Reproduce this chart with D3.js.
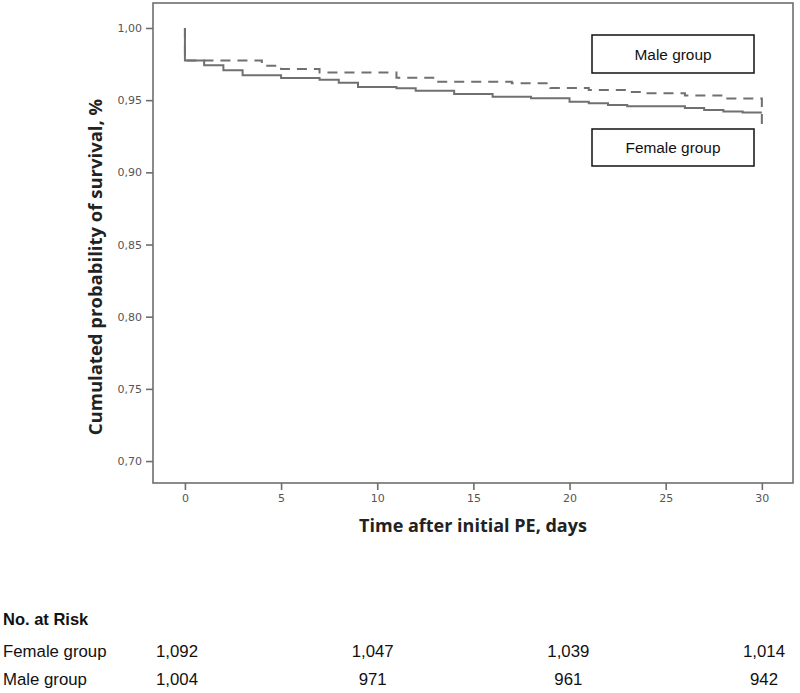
<!DOCTYPE html>
<html>
<head>
<meta charset="utf-8">
<script src="https://cdn.jsdelivr.net/npm/d3@7"></script>
<style>
  html, body { margin: 0; padding: 0; background: #fff; }
  svg { display: block; }
</style>
</head>
<body>
<svg id="chart" width="800" height="693"></svg>
<script>
// ---- data ----
const femaleT = [0, 0, 1, 2, 3, 5, 7, 8, 9, 11, 12, 14, 16, 18, 20, 21, 22, 23, 26, 27, 28, 29, 30];
const femaleS = [1.000, 0.9775, 0.9742, 0.9707, 0.9672, 0.9653, 0.9642, 0.9621, 0.9591, 0.9582, 0.9565, 0.9543, 0.9524, 0.9513, 0.9489, 0.9478, 0.9466, 0.9457, 0.9445, 0.9432, 0.9421, 0.9414, 0.9414];
const maleT = [0, 0, 4, 5, 7, 11, 13, 17, 19, 21, 23, 24, 26, 28, 30, 30];
const maleS = [1.000, 0.9775, 0.9739, 0.9716, 0.9692, 0.9656, 0.9628, 0.9617, 0.9584, 0.9570, 0.9556, 0.9547, 0.9532, 0.9511, 0.9511, 0.9314];
const yTicks = [0.70, 0.75, 0.80, 0.85, 0.90, 0.95, 1.00];
const xTicks = [0, 5, 10, 15, 20, 25, 30];
const riskTimes = [0, 10, 20, 30];
const riskGroups = ["Female group", "Male group"];
const riskFemale = ["1,092", "1,047", "1,039", "1,014"];
const riskMale = ["1,004", "971", "961", "942"];

const svg = d3.select("#chart");
const x = d3.scaleLinear().domain([-1.66, 31.62]).range([153, 793]);
const y = d3.scaleLinear().domain([0.6848, 1.0173]).range([483, 3]);

// frame
svg.append("rect")
  .attr("x", x.range()[0]).attr("y", y.range()[1])
  .attr("width", x.range()[1] - x.range()[0]).attr("height", y.range()[0] - y.range()[1])
  .attr("fill", "none").attr("stroke", "#6e6e6e").attr("stroke-width", 1.6);

const tickFont = "'DejaVu Sans', sans-serif";
const yAxis = svg.append("g").attr("transform", `translate(${x.range()[0]},0)`)
  .call(d3.axisLeft(y).tickValues(yTicks).tickSize(7).tickPadding(4)
    .tickFormat(d => d3.format(".2f")(d).replace(".", ",")));
const xAxis = svg.append("g").attr("transform", `translate(0,${y.range()[0]})`)
  .call(d3.axisBottom(x).tickValues(xTicks).tickSize(7).tickPadding(4));
[yAxis, xAxis].forEach(g => {
  g.select(".domain").remove();
  g.selectAll(".tick line").attr("stroke", "#6e6e6e").attr("stroke-width", 1.6);
  g.selectAll(".tick text").attr("fill", "#555").style("font-family", tickFont).style("font-size", "11px");
});

// curves
const line = d3.line().x(d => x(d[0])).y(d => y(d[1])).curve(d3.curveStepAfter);
const female = femaleT.map((t, i) => [t, femaleS[i]]);
const male = maleT.map((t, i) => [t, maleS[i]]);
svg.append("path").datum(female).attr("d", line)
  .attr("fill", "none").attr("stroke", "#707070").attr("stroke-width", 2);
svg.append("path").datum(male).attr("d", line)
  .attr("fill", "none").attr("stroke", "#707070").attr("stroke-width", 2)
  .attr("stroke-dasharray", "10,7");

// legend boxes
const boxes = [{label: "Male group", y0: 35, y1: 73}, {label: "Female group", y0: 129, y1: 166}];
boxes.forEach(b => {
  svg.append("rect").attr("x", 592).attr("y", b.y0).attr("width", 162).attr("height", b.y1 - b.y0)
    .attr("fill", "#fff").attr("stroke", "#111").attr("stroke-width", 1.5);
  svg.append("text").attr("x", 673).attr("y", (b.y0 + b.y1) / 2 + 5.5)
    .attr("text-anchor", "middle")
    .style("font-family", "'Liberation Sans', Arial, sans-serif").style("font-size", "15.4px")
    .attr("fill", "#111").text(b.label);
});

// axis titles
const titleFont = "'Open Sans', sans-serif";
svg.append("text").attr("x", 473).attr("y", 532).attr("text-anchor", "middle")
  .style("font-family", titleFont).style("font-weight", "bold").style("font-size", "18px")
  .attr("fill", "#222").text("Time after initial PE, days");
svg.append("text").attr("transform", "translate(102,267) rotate(-90)").attr("text-anchor", "middle")
  .style("font-family", titleFont).style("font-weight", "bold").style("font-size", "18.5px")
  .attr("fill", "#222").text("Cumulated probability of survival, %");

// number at risk table
const tx = d3.scaleLinear().domain([0, 30]).range([177, 764]);
const tableFont = "'Liberation Sans', Arial, sans-serif";
svg.append("text").attr("x", 3).attr("y", 625)
  .style("font-family", tableFont).style("font-weight", "bold").style("font-size", "16.5px")
  .attr("fill", "#111").text("No. at Risk");
const rows = [riskFemale, riskMale];
const rowY = [657, 685];
rows.forEach((vals, r) => {
  svg.append("text").attr("x", 3).attr("y", rowY[r])
    .style("font-family", tableFont).style("font-size", "16.8px").attr("fill", "#111").text(riskGroups[r]);
  svg.selectAll(null).data(vals).enter().append("text")
    .attr("x", (d, i) => tx(riskTimes[i])).attr("y", rowY[r]).attr("text-anchor", "middle")
    .style("font-family", tableFont).style("font-size", "16.8px").attr("fill", "#111").text(d => d);
});
</script>
</body>
</html>
